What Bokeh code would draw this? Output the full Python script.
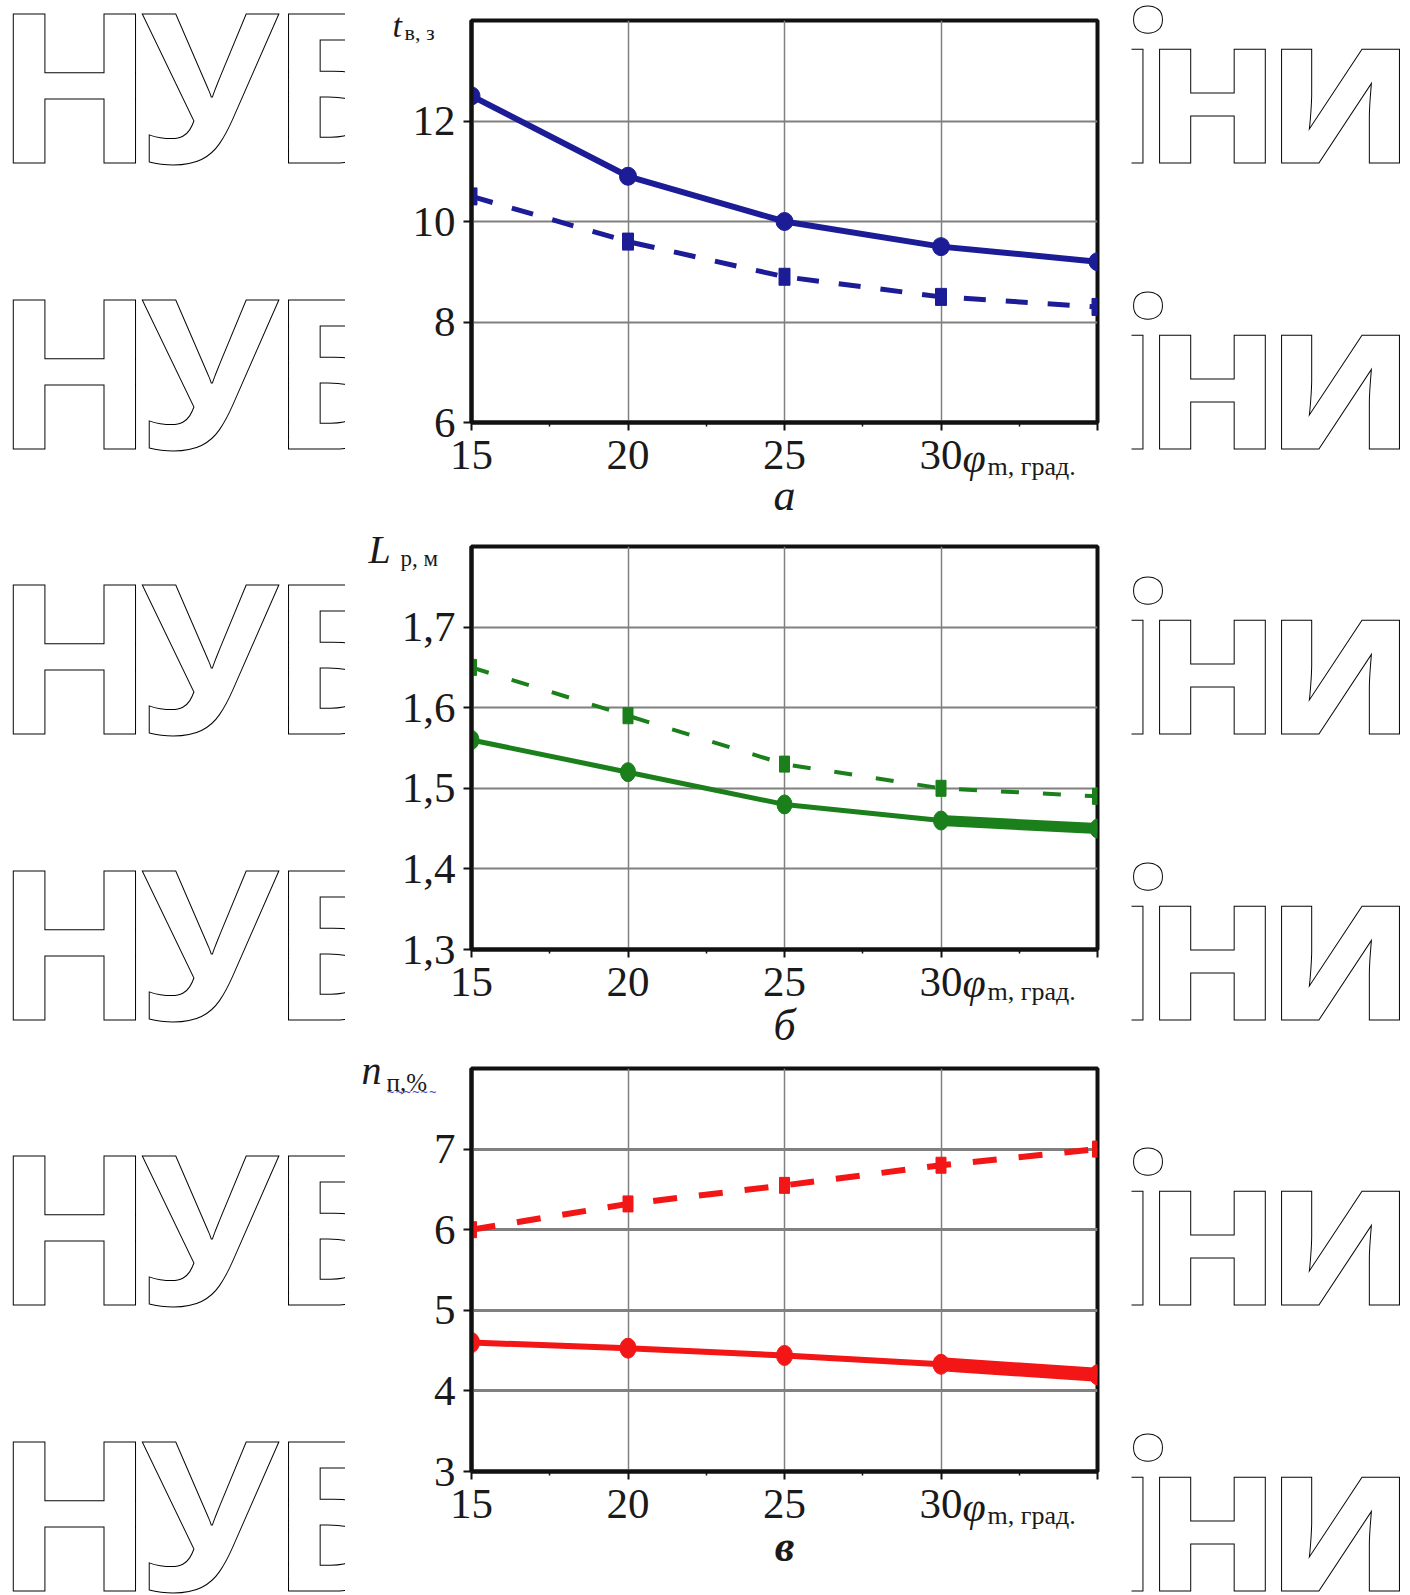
from bokeh.plotting import figure
from bokeh.models import Range1d, FixedTicker, CustomJSTickFormatter, GridBox
from bokeh.layouts import row, column
from bokeh.core.properties import value
from bokeh.embed import file_html
from bokeh.resources import INLINE

# ---------------- data ----------------
phi = [15, 20, 25, 30, 35]
x_ticks = [15, 20, 25, 30, 35]
x_minor = [17.5, 22.5, 27.5, 32.5]

t_solid = [12.5, 10.9, 10.0, 9.5, 9.2]
t_dash = [10.5, 9.6, 8.9, 8.5, 8.3]
t_ticks = [6, 8, 10, 12]

L_solid = [1.56, 1.52, 1.48, 1.46, 1.45]
L_dash = [1.65, 1.59, 1.53, 1.50, 1.49]
L_ticks = [1.3, 1.4, 1.5, 1.6, 1.7]

n_solid = [4.6, 4.53, 4.44, 4.33, 4.2]
n_dash = [6.0, 6.32, 6.55, 6.8, 7.0]
n_ticks = [3, 4, 5, 6, 7]

# watermark text (decorative background)
wm_letters = ["Н", "У", "Б", "і", "П", "У", "к", "р", "а", "ї", "н", "и"]
wm_centers = [74, 209, 336, 421, 517, 698, 820, 930, 1050, 1127, 1212, 1340]
wm_baselines = [163, 449, 734, 1020, 1305, 1591]

SERIF = "Liberation Serif"
W, H = 1410, 1595
WM_SIZE = 209
WM_MID = 0.388 * WM_SIZE     # baseline -> middle of text box (Open Sans)
SERIF_MID = 0.3375           # same for Liberation Serif, per em


def wm_fig(x0, x1, y0, y1):
    f = figure(width=x1 - x0, height=y1 - y0, x_range=Range1d(x0, x1),
               y_range=Range1d(y1, y0), toolbar_location=None, output_backend="svg",
               min_border=0, x_axis_location=None, y_axis_location=None,
               outline_line_color=None)
    f.grid.visible = False
    xs, ys, ts = [], [], []
    for b in wm_baselines:
        for c, ch in zip(wm_centers, wm_letters):
            xs.append(c)
            ys.append(b - WM_MID)
            ts.append(ch)
    f.text(x=xs, y=ys, text=ts, text_align="center", text_baseline="middle",
           text_font=value("Open Sans"), text_font_style="bold",
           text_font_size="%dpx" % WM_SIZE, text_color="white",
           text_outline_color="#000000")
    return f


def panel(height, bottom, yr, yticks, ydec, color, ys_solid, ys_dash,
          lw_solid, lw_last, lw_dash, dash, circ_w, circ_h, sq_w, sq_h, ygrid_w):
    p = figure(width=786, height=height, x_range=Range1d(15, 35), y_range=Range1d(*yr),
               toolbar_location=None, output_backend="svg",
               min_border_left=126, min_border_right=34,
               min_border_top=20, min_border_bottom=bottom,
               background_fill_color="white", border_fill_color="white")
    p.outline_line_color = "#111111"
    p.outline_line_width = 4

    xa = p.xaxis[0]
    xa.ticker = FixedTicker(ticks=x_ticks, minor_ticks=x_minor)
    xa.formatter = CustomJSTickFormatter(code="return tick >= 35 ? '' : tick.toFixed(0)")
    ya = p.yaxis[0]
    ya.ticker = FixedTicker(ticks=yticks)
    ya.formatter = CustomJSTickFormatter(
        code="return tick.toFixed(%d).replace('.', ',')" % ydec)
    for ax in (xa, ya):
        ax.axis_line_color = "#111111"
        ax.axis_line_width = 4
        ax.major_tick_line_color = "#111111"
        ax.major_tick_line_width = 2
        ax.major_tick_in = 0
        ax.major_tick_out = 8
        ax.major_label_text_font = SERIF
        ax.major_label_text_font_size = "43px"
        ax.major_label_text_color = "#1a1a1a"
    xa.minor_tick_line_color = "#111111"
    xa.minor_tick_line_width = 1.5
    xa.minor_tick_in = 0
    xa.minor_tick_out = 4
    xa.major_label_standoff = 10
    ya.minor_tick_line_color = None
    ya.major_label_standoff = 8

    p.xgrid.grid_line_color = "#808080"
    p.xgrid.grid_line_width = 1.5
    p.ygrid.grid_line_color = "#808080"
    p.ygrid.grid_line_width = ygrid_w

    # dashed series with rectangular markers
    p.line(phi, ys_dash, line_color=color, line_width=lw_dash, line_dash=dash)
    p.rect(phi, ys_dash, width=sq_w, height=sq_h, width_units="screen",
           height_units="screen", fill_color=color, line_color=color)
    # solid series with round markers
    p.line(phi, ys_solid, line_color=color, line_width=lw_solid)
    if lw_last != lw_solid:
        p.line(phi[3:], ys_solid[3:], line_color=color, line_width=lw_last)
    p.ellipse(phi, ys_solid, width=circ_w, height=circ_h, width_units="screen",
              height_units="screen", fill_color=color, line_color=color)
    return p


pa = panel(526, 104, (6, 14), t_ticks, 0, "#1c1c96", t_solid, t_dash,
           6, 6, 5, "22 20", 17, 18, 11, 17, 2)
pb = panel(522, 99, (1.3, 1.8), L_ticks, 1, "#1b7f1b", L_solid, L_dash,
           5, 11, 4, "18 24", 15, 19, 10, 16, 2)
pc = panel(547, 124, (3, 8), n_ticks, 0, "#f21616", n_solid, n_dash,
           6, 14, 6, "24 22", 16, 20, 10, 16, 3)

left = wm_fig(0, 345, 0, H)
right = wm_fig(1131, W, 0, H)
base = row(left, column(pa, pb, pc), right)

# ---------------- transparent overlay for the captions ----------------
ov = figure(width=W, height=H, x_range=Range1d(0, W), y_range=Range1d(H, 0),
            toolbar_location=None, output_backend="svg", min_border=0,
            x_axis_location=None, y_axis_location=None, outline_line_color=None,
            background_fill_color=None, border_fill_color=None)
ov.grid.visible = False


def txt(x, y_base, s, size, style="normal", align="left", color="#1a1a1a",
        font=SERIF, mid=SERIF_MID):
    ov.text(x=[x], y=[y_base - mid * size], text=[s], text_font=value(font),
            text_font_size="%dpx" % size, text_font_style=style, text_color=color,
            text_align=align, text_baseline="middle")


# y-axis captions (x of left edge, baseline y)
txt(392, 36, "t", 34, "italic")
txt(404, 39, "в, з", 22)
txt(368, 562, "L", 40, "italic")
txt(400, 566, "р, м", 23)
txt(361, 1083, "n", 40, "italic")
txt(386, 1090, "п,%", 25)
txt(386, 1095, "~~~~~~", 10, color="#3a3ad0", font="DejaVu Sans", mid=0.3)
# x-axis captions next to "30"
for b in (472, 997, 1521):
    txt(962, b, "φ", 42, "italic")
    txt(987, b + 3, "m, град.", 26)
# panel letters
txt(784, 510, "а", 44, "italic", "center")
txt(784, 1040, "б", 44, "italic", "center")
txt(784, 1561, "в", 44, "bold italic", "center")

layout = GridBox(children=[(base, 0, 0), (ov, 0, 0)])
open("out.html", "w").write(file_html(layout, INLINE))
